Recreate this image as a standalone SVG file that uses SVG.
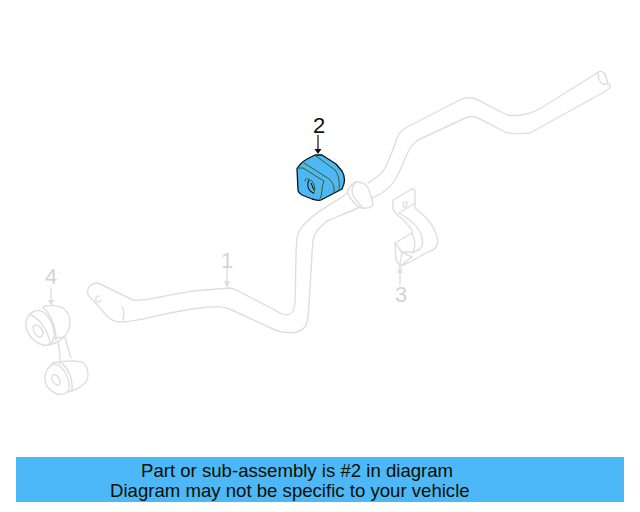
<svg xmlns="http://www.w3.org/2000/svg" width="640" height="512" viewBox="0 0 640 512">
<style>
.g{fill:none;stroke:#dedede;stroke-width:1.4;stroke-linecap:round;stroke-linejoin:round}
.w{fill:#fff;stroke:#dedede;stroke-width:1.4;stroke-linejoin:round}
.o{fill:none;stroke:#4a5a10;stroke-width:1;stroke-linecap:round}
.n{font-family:"Liberation Sans",Arial,sans-serif;font-size:22px;text-anchor:middle;fill:#d4d4d4}
.b{font-family:"Liberation Sans",Arial,sans-serif;font-size:18.6px;fill:#0a0f00}
</style>
<rect width="640" height="512" fill="#fff"/>
<g id="part-1">
<path class="g" d="M347 193C335 203 322 208 312 217C304 224 298 230 297 238C295 260 296 285 295 303C294 312 291 315 287 315C283 315 279 313 275 310L240 292C236 290 233 288 229 288C215 289 205 290 193 291C180 293 170 295 160 297C150 299 142 301 133 300L100 284C96 282 93 283 90 286C87 289 87 293 89 296L108 317C112 321 116 322 121 322C135 322 150 317 170 313C185 310 195 308 210 307C218 306 224 306 232 310L275 330C282 333 290 333 297 332C304 330 308 324 308 316C310 295 311 265 313 240C314 233 318 229 327 221C338 216 350 212 360 207"/>
<path class="g" d="M122 307C125 311 124 316 123 320M99 296C96 296 95 299 96 301C97 303 100 302 101 300"/>
<path class="g" d="M368 183C376 178 381 175 385 168C389 160 393 150 397 138C399 133 402 130 407 127L460 100C466 97 472 97 478 100L503 113C510 117 518 116 526 114C532 113 536 111 541 108L597 73C599 71 602 71 604 73C606 76 607 80 608 84"/>
<path class="g" d="M372 198C382 194 390 188 395 180C400 172 404 160 408 152C411 146 414 143 418 140L461 120C467 117 472 115 478 118L505 132C510 134 522 134 530 133L604 92C609 89 611 87 610 85C609 83 606 85 603 84C600 83 598 78 598 73"/>
<path class="w" d="M348 190C351 185 355 181 358 182C363 183 367 184 369 190L373 204C373 207 367 209 362 208C357 207 354 203 351 199C349 196 347 193 348 190Z"/>
<path class="g" d="M357 182C352 184 351 191 353 195C355 200 359 204 364 208"/>
<path d="M227 268V283" class="g"/>
<path d="M224 281L227 288L230 281Z" fill="#dedede"/>
<text class="n" x="227" y="268">1</text>
</g>
<g id="part-2">
<path d="M297 169C300 163 305 160 309 158L315 155L322 155L336 164L342 171C345 176 345 183 342 189L321 200C318 201 316 200 312 199L302 195C299 193 298 192 298 190Z" fill="#4db8f7" stroke="#111" stroke-width="1.3" stroke-linejoin="round"/>
<path class="o" d="M297 168L303 168C310 172 318 178 324 181C321 187 323 194 320 199"/>
<path class="o" d="M304 163L326 177C332 180 335 186 334 193"/>
<path class="o" d="M316 156L335 170C338 174 340 180 339 191"/>
<path class="o" d="M305 181C305 177 309 179 312 181C315 185 316 191 313 194"/>
<path fill="none" stroke="#111" stroke-width="1.1" d="M309 180C306 186 309 192 314 193M311 183L314 190"/>
<path d="M318 135V150" stroke="#111" stroke-width="1.2"/>
<path d="M314.500 149L318 154L321.500 149Z" fill="#111"/>
<text x="319" y="133" font-family="Liberation Sans,Arial,sans-serif" font-size="22" text-anchor="middle" fill="#111">2</text>
</g>
<g id="part-3">
<path class="g" d="M393 200L412 189C414 188 415 190 415 193L415 208C424 215 431 222 434 229C438 237 439 243 436 247C434 250 431 251 428 252L408 263L400 266L396 260L395 243L412 233L412 230C408 225 404 220 400 217C396 214 393 211 393 208Z"/>
<path class="g" d="M415 203L399 213C408 218 418 226 421 234C423 240 423 246 420 249L412 253M412 233C415 240 416 247 413 252M395 243L402 252L412 257L400 266M402 252L400 264M402 252H413"/>
<path class="g" d="M403 204C404 201 408 201 407 205C406 208 403 208 403 204Z"/>
<path class="g" d="M400 272V285"/>
<path d="M397 273L400 266L403 273Z" fill="#dedede"/>
<text class="n" x="401" y="302">3</text>
</g>
<g id="part-4">
<path class="g" d="M55 338L65 337C67 345 69 352 71 358M58 342C60 350 60 358 60 364"/>
<path class="g" d="M43 307C48 305 56 305 63 308C68 312 70 316 70 322C70 332 63 340 55 343C50 345 46 346 43 345"/>
<path class="w" d="M26 322C28 313 36 308 43 312C50 316 55 328 54 337C53 344 47 347 40 344C32 340 25 332 26 322Z"/>
<path class="g" d="M43 308C50 313 56 326 56 340M31 315C38 318 47 328 50 342"/>
<path class="g" d="M33 327C34 324 38 325 41 328C44 332 43 336 41 337C37 338 33 332 33 327Z"/>
<path class="g" d="M52 363C62 361 72 360 82 362C86 365 88 369 88 374C88 378 87 381 85 383C80 388 74 391 67 392"/>
<path class="w" d="M45 377C46 368 52 362 58 365C65 369 70 380 69 388C68 394 61 396 55 393C49 390 44 384 45 377Z"/>
<path class="g" d="M62 363C69 370 73 380 72 391"/>
<path class="g" d="M52 376C53 373 57 375 59 378C61 382 60 386 57 385C54 384 51 380 52 376Z"/>
<path class="g" d="M51 288V300"/>
<path d="M48 300L51 306L54 300Z" fill="#dedede"/>
<text class="n" x="51" y="284">4</text>
</g>
<g id="banner">
<rect x="16" y="457" width="608" height="45" fill="#4db8f7"/>
<text class="b" x="141" y="477">Part or sub-assembly is #2 in diagram</text>
<text class="b" x="110" y="497">Diagram may not be specific to your vehicle</text>
</g>
</svg>
